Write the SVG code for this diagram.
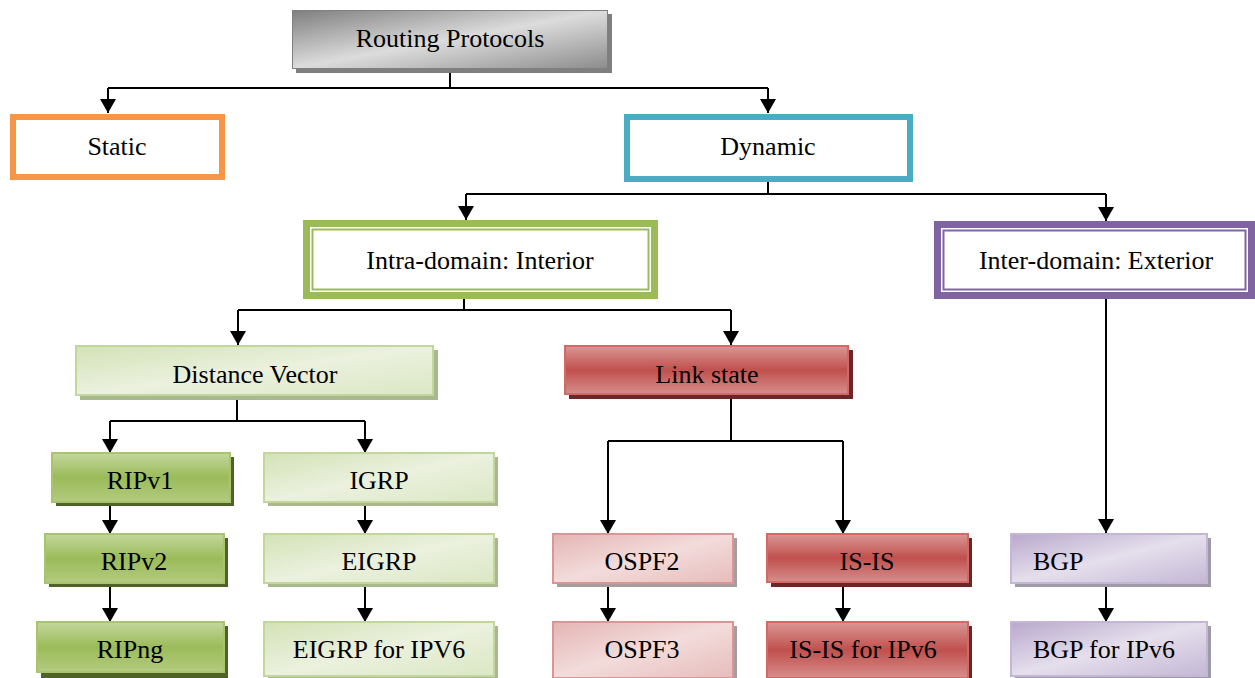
<svg xmlns="http://www.w3.org/2000/svg" width="1255" height="678" viewBox="0 0 1255 678">
<style>
.t{fill:#000;text-anchor:middle;dominant-baseline:central;font-family:"Liberation Serif","Times New Roman",serif;font-size:26px}
.ln{stroke:#000;stroke-width:2;fill:none}
.ar{stroke:#000;stroke-width:2;fill:none;marker-end:url(#ah)}
</style>
<defs>
<marker id="ah" viewBox="0 0 14 16" refX="14" refY="8" markerWidth="14" markerHeight="16" markerUnits="userSpaceOnUse" orient="auto">
<path d="M0,0 L14,8 L0,16 Z" fill="#000"/>
</marker>
<linearGradient id="gGray" x1="0" y1="0" x2="1" y2="1">
<stop offset="0" stop-color="#7f7f7f"/><stop offset="0.5" stop-color="#dcdcdc"/><stop offset="1" stop-color="#8c8c8c"/>
</linearGradient>
<linearGradient id="gLG" x1="0" y1="0" x2="1" y2="1">
<stop offset="0" stop-color="#d3e2b6"/><stop offset="0.5" stop-color="#ebf1de"/><stop offset="1" stop-color="#dbe7c4"/>
</linearGradient>
<linearGradient id="gG" x1="0" y1="0" x2="0" y2="1">
<stop offset="0" stop-color="#c4d79d"/><stop offset="0.5" stop-color="#9bbb59"/><stop offset="1" stop-color="#b3cb7f"/>
</linearGradient>
<linearGradient id="gR" x1="0" y1="0" x2="0" y2="1">
<stop offset="0" stop-color="#da9795"/><stop offset="0.5" stop-color="#c0504d"/><stop offset="1" stop-color="#d68e8c"/>
</linearGradient>
<linearGradient id="gP" x1="0" y1="0" x2="1" y2="1">
<stop offset="0" stop-color="#e4b5b4"/><stop offset="0.5" stop-color="#f2dcdb"/><stop offset="1" stop-color="#e6bcbb"/>
</linearGradient>
<linearGradient id="gV" x1="0" y1="0" x2="1" y2="1">
<stop offset="0" stop-color="#b8a8cc"/><stop offset="0.5" stop-color="#e5dfec"/><stop offset="1" stop-color="#c4b7d5"/>
</linearGradient>
</defs>

<g id="connectors">
<polyline class="ln" points="450,69 450,88"/>
<polyline class="ln" points="108,88 768,88"/>
<line class="ar" x1="108" y1="88" x2="108" y2="113"/>
<line class="ar" x1="768" y1="88" x2="768" y2="113"/>
<polyline class="ln" points="768,182 768,194"/>
<polyline class="ln" points="466,194 1106,194"/>
<line class="ar" x1="466" y1="194" x2="466" y2="220"/>
<line class="ar" x1="1106" y1="194" x2="1106" y2="221"/>
<polyline class="ln" points="464,298 464,310"/>
<polyline class="ln" points="238,310 731,310"/>
<line class="ar" x1="238" y1="310" x2="238" y2="345"/>
<line class="ar" x1="731" y1="310" x2="731" y2="345"/>
<line class="ar" x1="1106" y1="298" x2="1106" y2="533"/>
<polyline class="ln" points="237,396 237,421"/>
<polyline class="ln" points="110,421 365,421"/>
<line class="ar" x1="110" y1="421" x2="110" y2="453"/>
<line class="ar" x1="365" y1="421" x2="365" y2="453"/>
<line class="ar" x1="110" y1="502" x2="110" y2="534"/>
<line class="ar" x1="110" y1="583" x2="110" y2="622"/>
<line class="ar" x1="365" y1="502" x2="365" y2="534"/>
<line class="ar" x1="365" y1="583" x2="365" y2="622"/>
<polyline class="ln" points="731,395 731,441"/>
<polyline class="ln" points="608,441 843,441"/>
<line class="ar" x1="608" y1="441" x2="608" y2="534"/>
<line class="ar" x1="843" y1="441" x2="843" y2="534"/>
<line class="ar" x1="608" y1="583" x2="608" y2="622"/>
<line class="ar" x1="843" y1="583" x2="843" y2="622"/>
<line class="ar" x1="1106" y1="583" x2="1106" y2="622"/>
</g>

<g id="routing">
<rect x="296" y="14" width="316" height="59" fill="#7f7f7f"/>
<rect x="292.5" y="10.5" width="315" height="58" fill="url(#gGray)" stroke="#808080" stroke-width="1"/>
<text class="t" x="450" y="38">Routing Protocols</text>
</g>

<g id="static">
<rect x="13" y="117" width="209" height="60" fill="#fff" stroke="#f79646" stroke-width="6"/>
<text class="t" x="117" y="146">Static</text>
</g>

<g id="dynamic">
<rect x="627" y="117" width="283" height="62" fill="#fff" stroke="#4bacc6" stroke-width="6"/>
<text class="t" x="768" y="146">Dynamic</text>
</g>

<g id="intra">
<rect x="306.5" y="223.5" width="348" height="72" fill="#fff" stroke="#9bbb59" stroke-width="7"/>
<rect x="312.5" y="229.5" width="336" height="60" fill="#fff" stroke="#9bbb59" stroke-width="2"/>
<text class="t" x="480" y="260">Intra-domain: Interior</text>
</g>

<g id="inter">
<rect x="937.5" y="224.5" width="314" height="71" fill="#fff" stroke="#8064a2" stroke-width="7"/>
<rect x="943.5" y="230.5" width="302" height="59" fill="#fff" stroke="#8064a2" stroke-width="2"/>
<text class="t" x="1096" y="260">Inter-domain: Exterior</text>
</g>

<g id="dv">
<rect x="80" y="350" width="358" height="50" fill="#a9b88e"/>
<rect x="76" y="346" width="357" height="49" fill="url(#gLG)" stroke="#c3d69b" stroke-width="2"/>
<text class="t" x="255" y="374">Distance Vector</text>
</g>

<g id="ls">
<rect x="569" y="350" width="284" height="49" fill="#6d2625"/>
<rect x="565" y="346" width="283" height="48" fill="url(#gR)" stroke="#d16967" stroke-width="2"/>
<text class="t" x="707" y="374">Link state</text>
</g>

<g id="ripv1">
<rect x="56" y="457" width="178" height="49" fill="#4f6228"/>
<rect x="52" y="453" width="178" height="49" fill="url(#gG)" stroke="#a9c46f" stroke-width="2"/>
<text class="t" x="140" y="480">RIPv1</text>
</g>
<g id="ripv2">
<rect x="49" y="538" width="179" height="49" fill="#4f6228"/>
<rect x="45" y="534" width="179" height="49" fill="url(#gG)" stroke="#a9c46f" stroke-width="2"/>
<text class="t" x="134" y="561">RIPv2</text>
</g>
<g id="ripng">
<rect x="41" y="626" width="187" height="52" fill="#4f6228"/>
<rect x="37" y="622" width="187" height="50" fill="url(#gG)" stroke="#a9c46f" stroke-width="2"/>
<text class="t" x="130" y="649">RIPng</text>
</g>

<g id="igrp">
<rect x="268" y="457" width="230" height="49" fill="#a9b88e"/>
<rect x="264" y="453" width="230" height="49" fill="url(#gLG)" stroke="#c3d69b" stroke-width="2"/>
<text class="t" x="379" y="480">IGRP</text>
</g>
<g id="eigrp">
<rect x="268" y="538" width="230" height="49" fill="#a9b88e"/>
<rect x="264" y="534" width="230" height="49" fill="url(#gLG)" stroke="#c3d69b" stroke-width="2"/>
<text class="t" x="379" y="561">EIGRP</text>
</g>
<g id="eigrp6">
<rect x="268" y="626" width="230" height="52" fill="#a9b88e"/>
<rect x="264" y="622" width="230" height="54" fill="url(#gLG)" stroke="#c3d69b" stroke-width="2"/>
<text class="t" x="379" y="649">EIGRP for IPV6</text>
</g>

<g id="ospf2">
<rect x="557" y="538" width="180" height="49" fill="#a89c9c"/>
<rect x="553" y="534" width="180" height="49" fill="url(#gP)" stroke="#d99694" stroke-width="2"/>
<text class="t" x="642" y="561">OSPF2</text>
</g>
<g id="ospf3">
<rect x="557" y="626" width="180" height="52" fill="#a89c9c"/>
<rect x="553" y="622" width="180" height="56" fill="url(#gP)" stroke="#d99694" stroke-width="2"/>
<text class="t" x="642" y="649">OSPF3</text>
</g>

<g id="isis">
<rect x="771" y="538" width="201" height="49" fill="#6d2625"/>
<rect x="767" y="534" width="201" height="48" fill="url(#gR)" stroke="#d16967" stroke-width="2"/>
<text class="t" x="867" y="561">IS-IS</text>
</g>
<g id="isis6">
<rect x="771" y="626" width="201" height="52" fill="#6d2625"/>
<rect x="767" y="622" width="201" height="56" fill="url(#gR)" stroke="#d16967" stroke-width="2"/>
<text class="t" x="863" y="649">IS-IS for IPv6</text>
</g>

<g id="bgp">
<rect x="1015" y="538" width="196" height="49" fill="#9f9aa6"/>
<rect x="1011" y="534" width="196" height="49" fill="url(#gV)" stroke="#c4b7d5" stroke-width="2"/>
<text class="t" x="1033" y="561" style="text-anchor:start">BGP</text>
</g>
<g id="bgp6">
<rect x="1015" y="626" width="196" height="52" fill="#9f9aa6"/>
<rect x="1011" y="622" width="196" height="54" fill="url(#gV)" stroke="#c4b7d5" stroke-width="2"/>
<text class="t" x="1033" y="649" style="text-anchor:start">BGP for IPv6</text>
</g>
</svg>
